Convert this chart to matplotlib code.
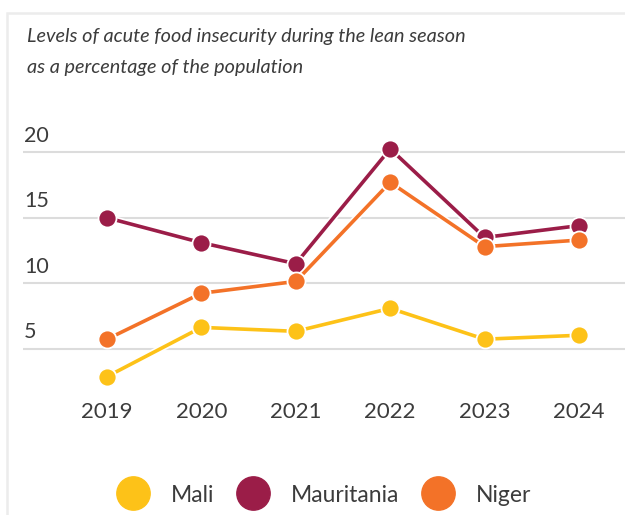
import matplotlib
matplotlib.use('Agg')
import matplotlib.pyplot as plt
import matplotlib.patheffects as pe
from matplotlib.lines import Line2D
from matplotlib.patches import Rectangle

plt.rcParams['font.family'] = ['Lato', 'DejaVu Sans']

# lean season acute food insecurity, % of population
years = [2019, 2020, 2021, 2022, 2023, 2024]
mali = [2.9, 6.65, 6.35, 8.1, 5.75, 6.05]
mauritania = [15.0, 13.1, 11.5, 20.25, 13.5, 14.4]
niger = [5.75, 9.25, 10.15, 17.7, 12.8, 13.3]
countries = ['Mali', 'Mauritania', 'Niger']
colors = ['#FDC218', '#9B1D48', '#F37228']
yticks = [5, 10, 15, 20]

text_color = '#3c3c3c'
W, H = 625, 515

fig = plt.figure(figsize=(W / 100, H / 100), dpi=100)

# card frame, only top and left edges show
fig.add_artist(Rectangle((7 / W, -0.1), 2, 1.1 - 13 / H, transform=fig.transFigure,
                         facecolor='none', edgecolor='#ececec', linewidth=1.8))

fig.text(27 / W, 1 - 36 / H, 'Levels of acute food insecurity during the lean season',
         fontsize=14.3, style='italic', color=text_color, va='center')
fig.text(27 / W, 1 - 68 / H, 'as a percentage of the population',
         fontsize=14.3, style='italic', color=text_color, va='center')

# y=0 sits at pixel 414.7, 13.13 px per unit; one year = 94.4 px
px_unit = 13.13
px_year = 94.4
y_top = 22
ax_left = 23
ax = fig.add_axes([ax_left / W, (H - 414.7) / H, 1 - ax_left / W, y_top * px_unit / H])
x0 = 2019 - (107 - ax_left) / px_year
ax.set_xlim(x0, x0 + (W - ax_left) / px_year)
ax.set_ylim(0, y_top)
ax.axis('off')

for v in yticks:
    ax.axhline(v, color='#dcdcdc', linewidth=1.5, zorder=1)
    ax.text(0.002, v + 0.5, str(v), transform=ax.get_yaxis_transform(),
            fontsize=15.5, color=text_color, va='bottom', ha='left')

for yr in years:
    ax.text(yr, 0.17, str(yr), fontsize=16, color=text_color, ha='center', va='center')

for i, (name, vals) in enumerate(zip(countries, [mali, mauritania, niger])):
    z = 3 + i * 2
    ax.plot(years, vals, color=colors[i], linewidth=2.6, zorder=z,
            path_effects=[pe.Stroke(linewidth=5, foreground='white'), pe.Normal()])
    ax.plot(years, vals, linestyle='none', marker='o', markersize=13,
            markerfacecolor=colors[i], markeredgecolor='white', markeredgewidth=1.3,
            zorder=z + 1)

handles = [Line2D([], [], linestyle='none', marker='o', markersize=24,
                  markerfacecolor=c, markeredgecolor=c) for c in colors]
leg = fig.legend(handles, countries, loc='center', bbox_to_anchor=(323.5 / W, 1 - 495 / H),
                 ncol=3, frameon=False, fontsize=16.5, handletextpad=0.9,
                 columnspacing=0.96, handlelength=1.5)
for t in leg.get_texts():
    t.set_color(text_color)

fig.savefig('out.png', dpi=100)
